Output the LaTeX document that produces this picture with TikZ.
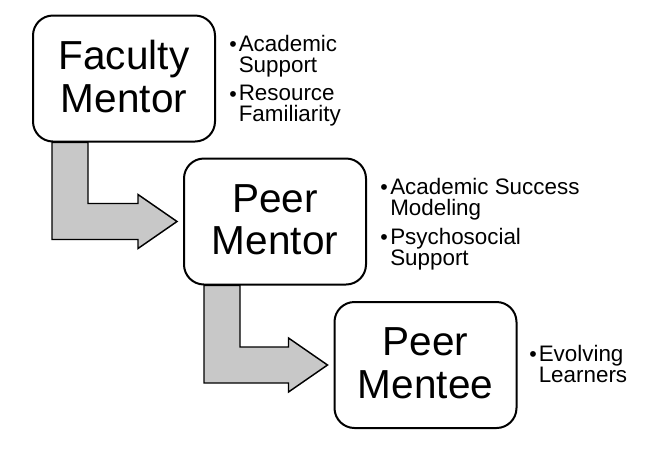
\documentclass[tikz,border=0pt]{standalone}
\usepackage{fontspec}
\setmainfont{Liberation Sans}
\usetikzlibrary{calc,backgrounds}
\definecolor{arrowgray}{RGB}{200,200,200}
\begin{document}
\begin{tikzpicture}[x=0.75pt,y=-0.75pt,
  mbox/.style={draw=black, line width=1.5pt, rounded corners=15pt, fill=white,
    minimum width=136.5pt, minimum height=94.5pt, align=center, inner sep=0pt,
    text depth=3pt, font=\fontsize{30.4pt}{31.9pt}\selectfont},
  blockarrow/.style={draw=black, line width=1.1pt, fill=arrowgray, line join=miter},
  itemtext/.style={anchor=north west, inner sep=0pt, align=left,
    font=\fontsize{16.8pt}{15.75pt}\selectfont},
  bul/.style={anchor=base, inner sep=0pt, font=\fontsize{16pt}{16pt}\selectfont}]
\useasboundingbox (0,0) rectangle (658,455);
% boxes
\node[mbox] (fm) at (124,78.5) {Faculty\\Mentor};
\node[mbox] (pm) at (275,221.5) {Peer\\Mentor};
\node[mbox] (pe) at (425.5,365) {Peer\\Mentee};
% bullet lists
\node[bul] (b1) at (233,51) {•};
\node[itemtext] (t1) at (238.5,34.5) {Academic\\Support};
\node[bul] (b2) at (233,101.5) {•};
\node[itemtext] (t2) at (238.5,85) {Resource\\Familiarity};
\node[bul] (b3) at (384,194) {•};
\node[itemtext] (t3) at (390,177.5) {Academic Success\\Modeling};
\node[bul] (b4) at (384,244.5) {•};
\node[itemtext] (t4) at (390,228) {Psychosocial\\Support};
\node[bul] (b5) at (533,361.5) {•};
\node[itemtext] (t5) at (538.5,345) {Evolving\\Learners};
% arrows behind the boxes
\begin{pgfonlayer}{background}
\fill[white] (0,0) rectangle (658,455);
\draw[blockarrow] ($(fm.south west)+(20,0)$) |- ($(pm.west)+(-45,18)$) -- ++(0,9)
  -- ($(pm.west)+(-6,0)$) -- ($(pm.west)+(-45,-27)$) -- ++(0,9)
  -| ($(fm.south west)+(56,0)$) -- cycle;
\draw[blockarrow] ($(pm.south west)+(21,0)$) |- ($(pe.west)+(-45,18)$) -- ++(0,9)
  -- ($(pe.west)+(-6,0)$) -- ($(pe.west)+(-45,-27)$) -- ++(0,9)
  -| ($(pm.south west)+(57,0)$) -- cycle;
\end{pgfonlayer}
\end{tikzpicture}
\end{document}
